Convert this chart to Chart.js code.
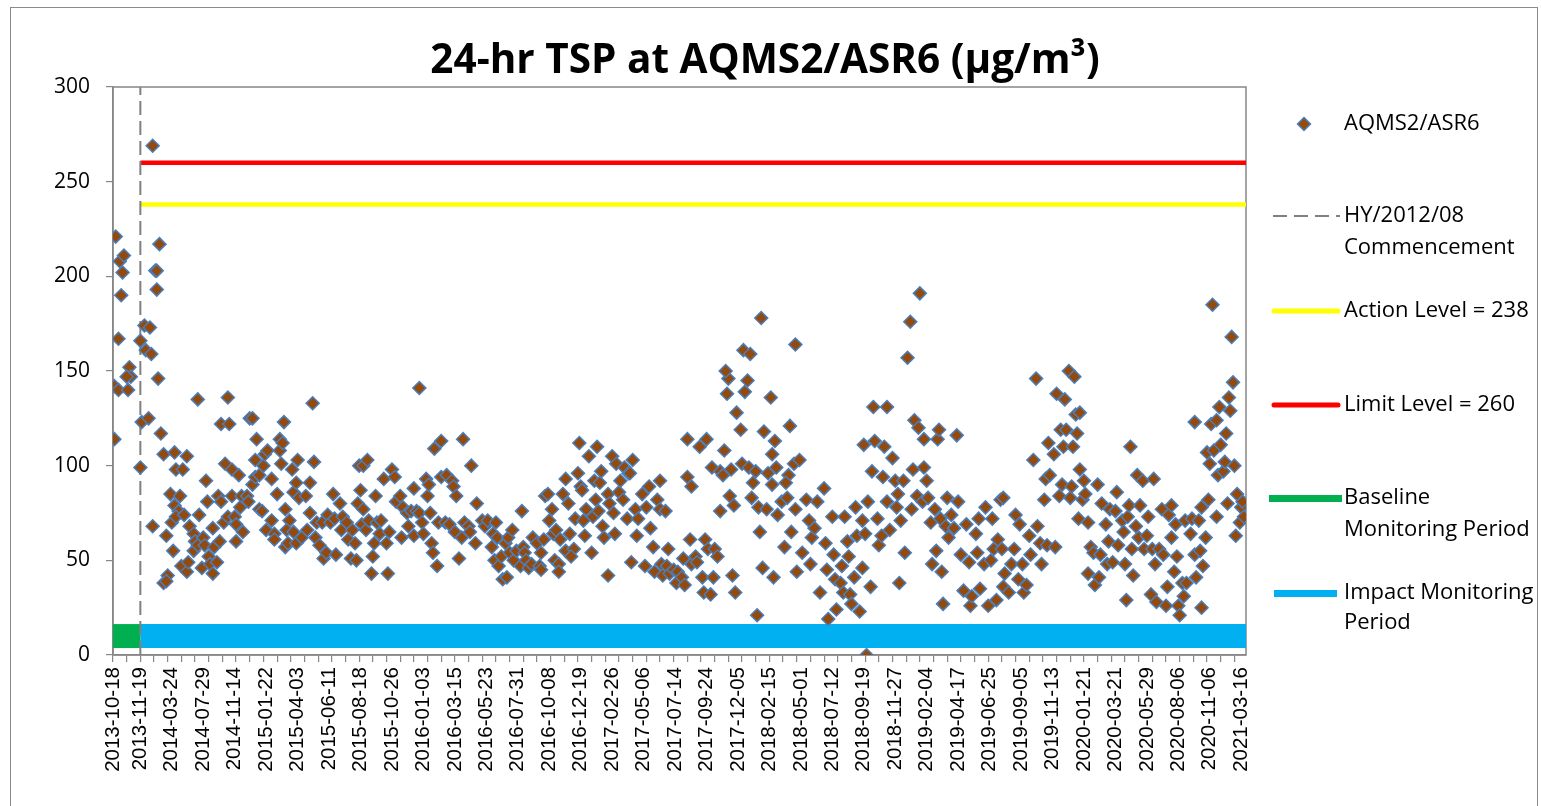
<!DOCTYPE html>
<html><head><meta charset="utf-8">
<script src="https://cdn.jsdelivr.net/npm/chart.js@4.4.0/dist/chart.umd.min.js"></script>
<style>
html,body{margin:0;padding:0;background:#fff;overflow:hidden;}
#wrap{position:absolute;left:0;top:0;width:1541px;height:806px;}
#frame{position:absolute;left:10px;top:7px;width:1528px;height:830px;border:1px solid #8a8a8a;box-sizing:border-box;pointer-events:none;}
</style></head><body>
<div id="wrap"><canvas id="c" width="1541" height="806"></canvas><div id="frame"></div></div>
<script>
// ---- data ----
const chartTitle = '24-hr TSP at AQMS2/ASR6 (µg/m³)';
const tickLabels = ['2013-10-18','2013-11-19','2014-03-24','2014-07-29','2014-11-14','2015-01-22','2015-04-03','2015-06-11','2015-08-18','2015-10-26','2016-01-03','2016-03-15','2016-05-23','2016-07-31','2016-10-08','2016-12-19','2017-02-26','2017-05-06','2017-07-14','2017-09-24','2017-12-05','2018-02-15','2018-05-01','2018-07-12','2018-09-19','2018-11-27','2019-02-04','2019-04-17','2019-06-25','2019-09-05','2019-11-13','2020-01-21','2020-03-21','2020-05-29','2020-08-06','2020-11-06','2021-03-16'];
// sample position (category index) of each tick label
const tickLabelPos = [0,20,43,66,89,112,135,158,181,204,227,250,273,296,319,342,365,388,411,434,457,480,503,526,549,572,595,618,641,664,687,710,733,756,779,802,825];
const axisEnd = 828.5;
const minorTickStep = 10;
const commencementPos = 20;
const actionLevel = 238;
const limitLevel = 260;
const periodBandLevel = 10;
// [sample position, 24-hr TSP µg/m³]
const tspReadings = [
[1,114],[1,142],[4,167],[2,221],[5,208],[8,211],[7,202],[6,190],[4,140],[12,152],[13,147],[11,140],[10,147],
[20,99],[20,166],[21,123],[26,125],[23,174],[27,173],[24,161],[28,159],[29,269],[31,203],[32,203],[32,193],[34,217],[33,146],[29,68],[35,117],[37,106],[37,38],[40,42],[39,39],[39,63],[42,85],[43,70],[44,55],[45,107],[46,98],[49,84],[51,98],[54,105],[45,79],[48,76],[46,73],[52,74],[50,47],[54,44],[55,49],[59,55],[56,68],[59,64],[62,135],[63,74],[60,60],[62,58],[65,46],[66,62],[68,92],[69,81],[70,52],[67,58],[71,48],[73,67],[73,43],[74,57],[76,49],[78,60],[77,84],[79,81],[79,122],[85,122],[84,136],[82,101],[87,98],[92,95],[81,70],[84,73],[87,84],[89,73],[90,60],[90,69],[93,78],[95,65],[94,84],[98,84],[99,81],[100,125],[102,125],[105,114],[102,90],[104,94],[107,95],[104,103],[110,100],[111,106],[113,108],[107,77],[109,76],[112,66],[116,71],[118,64],[118,61],[116,93],[120,85],[122,108],[122,114],[124,112],[125,123],[123,101],[126,77],[126,57],[129,71],[127,66],[128,59],[131,98],[132,86],[132,65],[134,91],[135,103],[134,59],[136,83],[138,62],[141,84],[142,66],[144,91],[144,75],[146,133],[147,102],[148,62],[149,70],[151,58],[153,70],[154,51],[156,54],[157,74],[159,70],[161,85],[162,72],[163,53],[166,80],[167,66],[168,73],[171,70],[172,61],[174,51],[175,66],[177,59],[178,50],[179,80],[181,87],[180,100],[183,100],[186,103],[183,77],[182,69],[185,66],[187,71],[189,43],[190,52],[191,59],[192,84],[193,70],[195,64],[196,71],[198,93],[200,59],[201,43],[202,65],[204,98],[206,94],[207,81],[210,84],[211,62],[212,78],[215,75],[216,68],[218,76],[220,63],[220,88],[222,76],[224,75],[224,141],[226,70],[227,64],[229,93],[230,84],[231,90],[232,75],[233,59],[234,54],[237,47],[238,70],[235,109],[240,113],[240,94],[243,70],[244,95],[246,69],[248,92],[249,89],[251,84],[250,65],[253,51],[255,62],[256,114],[257,70],[260,68],[261,65],[262,100],[265,59],[266,80],
[270,71],[272,68],[274,71],[277,57],[278,64],[280,70],[281,62],[279,50],[282,47],[285,40],[288,41],[287,59],[284,52],[289,62],[292,66],[290,54],[293,50],[295,55],[298,47],[299,76],[300,57],[301,54],[302,50],[304,46],[306,48],[307,62],[310,59],[312,47],[313,54],[315,61],[313,45],[316,84],[318,85],[319,71],[321,77],[322,64],[323,50],
[324,66],[326,48],[326,44],[327,61],[329,85],[331,93],[333,80],[331,55],[334,64],[337,56],[335,52],[338,72],[340,96],[341,112],[342,89],[343,87],[344,71],[345,63],[346,77],[348,105],[350,54],[351,73],[352,92],[353,82],[354,110],[355,76],[356,91],[357,97],[358,68],[359,62],[362,42],[362,85],[363,80],[365,105],[366,75],[367,64],[368,101],[370,86],[371,92],[373,82],[374,99],[376,72],[377,96],[378,96],[380,103],[379,49],[382,77],[383,63],[384,72],[387,85],[389,47],[390,78],[392,89],[393,67],[395,57],[396,44],[398,82],[400,92],[400,77],[401,48],[402,42],[404,76],[405,47],[406,56],[407,43],[410,45],[412,38],[413,44],[416,41],[417,51],[418,37],[420,114],[420,94],[423,89],[422,61],[423,48],[426,52],[427,49],[429,110],[431,41],[432,33],[433,61],[434,114],[435,56],[437,32],[438,99],[439,41],[440,56],[442,52],[444,76],[444,97],[446,95],[447,108],[449,138],[450,146],[448,150],[451,84],[452,98],[453,42],[455,33],[454,79],[456,128],[459,119],[460,101],[461,161],[462,139],[464,145],[466,159],[465,99],[467,83],[468,91],[470,97],[471,21],[472,78],[473,65],[474,178],[475,46],[476,118],[478,77],[479,96],[481,136],[482,106],[482,90],[483,41],[484,113],[485,99],[486,74],
[489,81],[491,57],[493,83],[494,95],[492,91],[495,121],[496,65],[498,101],[499,164],[499,77],[500,44],[502,103],[504,54],[507,82],[509,71],[510,48],[511,62],[513,67],[515,81],[517,33],[520,88],[521,59],[522,45],[523,19],[526,73],[527,53],[528,40],[529,24],[532,38],[533,47],[534,33],[535,73],[537,60],[538,52],[539,32],[540,27],[542,41],[543,78],[544,63],[546,23],[548,46],[548,71],[549,111],[550,64],[551,0],[552,81],[554,36],[555,97],[556,131],[557,113],[559,72],[560,58],[562,63],[563,94],[564,110],[566,81],[566,131],[568,66],[570,104],[572,92],[573,78],[574,85],[575,38],[576,71],[578,92],[579,54],[581,157],[583,176],[584,77],[585,98],[586,124],[588,84],[589,120],[590,191],[592,81],[593,99],[593,114],[595,92],[596,83],[598,70],[599,48],[601,77],[602,55],[603,114],[604,119],[605,72],[606,44],[607,27],[609,68],[610,83],[611,62],[613,74],[615,67],[617,116],[618,81],[620,53],[622,34],[624,69],[626,49],[627,26],[628,31],[631,64],[632,54],[633,72],[634,35],[637,48],[638,78],[640,26],[642,50],[643,72],[644,56],[646,29],[647,61],[649,82],[651,36],
[651,83],[650,56],[652,43],[655,33],[657,48],[659,56],[660,74],[662,40],[663,69],[665,48],[666,33],[668,37],[670,63],[671,53],[673,103],[675,146],[676,68],[678,59],[679,48],[681,82],[682,93],[683,58],[684,112],[685,95],[688,106],[689,57],[690,138],[692,84],[693,119],[694,90],[695,110],[696,135],[697,119],[699,150],[700,83],[701,89],[702,110],[703,147],[704,127],[705,117],[706,72],[707,128],[709,82],[707,98],[710,92],[711,85],[713,70],[713,43],[715,57],[717,54],[718,37],[720,90],[721,41],[722,53],[723,80],[726,69],[727,48],[728,60],[729,77],[731,49],[733,76],[734,86],[735,58],[738,71],[739,65],[740,48],[741,29],[742,73],[743,79],[744,110],[745,56],[746,42],[748,68],[749,95],[750,62],[751,79],[753,92],[754,56],[756,63],[757,73],[759,32],[760,56],[761,93],[762,48],[763,28],[765,56],[767,77],[768,53],[770,26],[771,36],[772,74],[774,79],[774,62],[776,44],[777,69],[778,52],[779,26],[780,21],[782,38],[783,31],[784,71],[785,38],[788,64],[789,72],[791,123],[791,53],[792,41],[794,71],[795,55],[796,25],[796,78],[797,47],[799,62],[800,107],[801,82],[802,101],[803,122],[804,185],[805,108],[807,73],[807,124],[808,95],[809,131],[810,111],[812,97],[813,102],[814,117],[815,80],[816,136],[817,129],[818,168],[819,144],[820,100],[821,63],[822,85],[824,70],[825,78],[826,81],[827,73]
];

// ---- styles ----
const GREY = '#878787';
const FONT = '"Open Sans", "Liberation Sans", sans-serif';

function labelFor(v){ const i = tickLabelPos.indexOf(v); return i >= 0 ? tickLabels[i] : ''; }

const overlay = {
  id: 'overlay',
  beforeDatasetsDraw(chart){
    const {ctx, chartArea:a} = chart;
    ctx.save();
    ctx.strokeStyle = GREY; ctx.lineWidth = 1.5;
    ctx.strokeRect(a.left, a.top, a.right - a.left, a.bottom - a.top);
    ctx.restore();
  },
  afterDraw(chart){
    const ctx = chart.ctx;
    ctx.save();
    // title
    ctx.fillStyle = '#000';
    ctx.font = 'bold 40.5px ' + FONT;
    ctx.textAlign = 'center'; ctx.textBaseline = 'middle';
    ctx.fillText(chartTitle, 765, 61);
    // legend
    ctx.font = '22px ' + FONT;
    ctx.textAlign = 'left';
    const tx = 1344;
    const txt = (s, y) => ctx.fillText(s, tx, y);
    // marker
    ctx.fillStyle = '#944A0C'; ctx.strokeStyle = '#4A7EBB';
    ctx.beginPath();
    ctx.moveTo(1304, 117.5); ctx.lineTo(1310.5, 124); ctx.lineTo(1304, 130.5); ctx.lineTo(1297.5, 124); ctx.closePath();
    ctx.fill(); ctx.lineWidth = 1.5; ctx.stroke();
    ctx.fillStyle = '#000';
    txt('AQMS2/ASR6', 124);
    const line = (x1, x2, y, color, w, dash) => {
      ctx.save(); ctx.strokeStyle = color; ctx.lineWidth = w; ctx.setLineDash(dash || []);
      ctx.lineCap = dash ? 'butt' : 'round';
      ctx.beginPath(); ctx.moveTo(x1, y); ctx.lineTo(x2, y); ctx.stroke(); ctx.restore();
    };
    line(1273, 1340, 216, '#808080', 2, [14, 7]);
    txt('HY/2012/08', 216); txt('Commencement', 248);
    line(1274, 1338, 311, '#FFFF00', 5);
    txt('Action Level = 238', 311);
    line(1274, 1338, 405, '#FF0000', 5);
    txt('Limit Level = 260', 405);
    ctx.save(); ctx.fillStyle = '#00B050'; ctx.fillRect(1269, 495, 73, 7); ctx.restore();
    txt('Baseline', 498); txt('Monitoring Period', 530);
    ctx.save(); ctx.fillStyle = '#00B0F0'; ctx.fillRect(1274, 590, 63, 7); ctx.restore();
    txt('Impact Monitoring', 593); txt('Period', 623);
    ctx.restore();
  }
};

new Chart(document.getElementById('c'), {
  type: 'scatter',
  data: {
    datasets: [
      { label: 'AQMS2/ASR6', data: tspReadings.map(p => ({x: p[0], y: p[1]})),
        pointStyle: 'rectRot', pointRadius: 6.5, pointBackgroundColor: '#944A0C',
        pointBorderColor: '#4A7EBB', pointBorderWidth: 1.5, showLine: false },
      { label: 'HY/2012/08 Commencement', data: [{x: commencementPos, y: 0}, {x: commencementPos, y: 300}],
        showLine: true, borderColor: '#808080', borderWidth: 2, borderDash: [14, 6], pointRadius: 0 },
      { label: 'Action Level = 238', data: [{x: commencementPos, y: actionLevel}, {x: axisEnd, y: actionLevel}],
        showLine: true, borderColor: '#FFFF00', borderWidth: 4.5, pointRadius: 0 },
      { label: 'Limit Level = 260', data: [{x: commencementPos, y: limitLevel}, {x: axisEnd, y: limitLevel}],
        showLine: true, borderColor: '#FF0000', borderWidth: 4.5, pointRadius: 0 },
      { label: 'Baseline Monitoring Period', data: [{x: 0, y: periodBandLevel}, {x: commencementPos, y: periodBandLevel}],
        showLine: true, borderColor: '#00B050', borderWidth: 24, pointRadius: 0 },
      { label: 'Impact Monitoring Period', data: [{x: commencementPos, y: periodBandLevel}, {x: axisEnd, y: periodBandLevel}],
        showLine: true, borderColor: '#00B0F0', borderWidth: 24, pointRadius: 0 }
    ]
  },
  options: {
    responsive: false, animation: false, devicePixelRatio: 1,
    layout: { padding: { left: 0, top: 87, right: 295, bottom: 0 } },
    plugins: { legend: { display: false }, title: { display: false }, tooltip: { enabled: false } },
    scales: {
      x: {
        type: 'linear', min: 0, max: axisEnd,
        afterBuildTicks(scale){
          const vals = new Set();
          for (let v = 0; v <= axisEnd; v += minorTickStep) vals.add(v);
          tickLabelPos.forEach(p => vals.add(p));
          scale.ticks = [...vals].sort((a, b) => a - b).map(v => ({value: v}));
        },
        afterFit(scale){ scale.height = 151; },
        ticks: { autoSkip: false, minRotation: 90, maxRotation: 90, padding: 5,
          color: '#000', font: { family: '"Liberation Sans", Arial, sans-serif', size: 20.5 },
          callback: (v) => labelFor(v) },
        grid: { drawOnChartArea: false, tickLength: 7, lineWidth: 1.2,
          tickColor: (ctx) => (ctx.tick && ctx.tick.value % minorTickStep === 0) ? GREY : 'rgba(0,0,0,0)' },
        border: { color: GREY, width: 1.5 }
      },
      y: {
        min: 0, max: 300,
        afterFit(scale){ scale.width = 113; },
        ticks: { stepSize: 50, padding: 16, color: '#000', font: { family: FONT, size: 21 } },
        grid: { drawOnChartArea: false, tickLength: 7, lineWidth: 1.2, tickColor: GREY },
        border: { color: GREY, width: 1.5 }
      }
    }
  },
  plugins: [overlay]
});
</script>
</body></html>
